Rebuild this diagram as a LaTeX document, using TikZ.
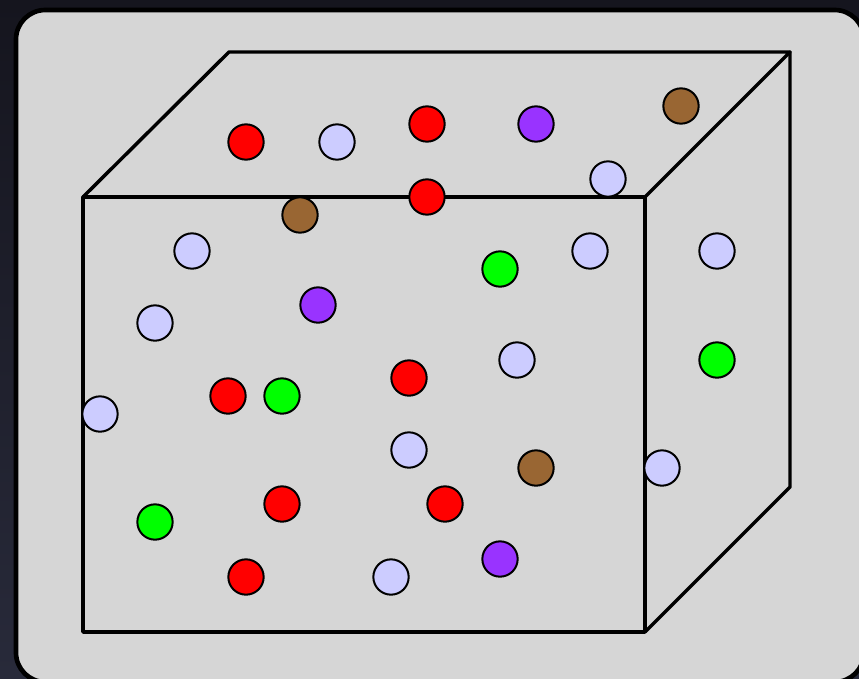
\documentclass[tikz,border=0pt]{standalone}
\usepackage{xcolor}
\usepackage{tikz}
\usetikzlibrary{positioning,calc}

\definecolor{panelgray}{HTML}{D6D6D6}
\definecolor{bgtop}{HTML}{15151E}
\definecolor{bgbot}{HTML}{282A3A}
\definecolor{pred}{HTML}{FF0000}
\definecolor{plav}{HTML}{CCCCFF}
\definecolor{ppur}{HTML}{9933FF}
\definecolor{pbrn}{HTML}{996633}
\definecolor{pgrn}{HTML}{00FF00}

\begin{document}
\begin{tikzpicture}[
  x=0.75pt, y=-0.75pt,
  edge/.style={line width=2.6pt, black, line cap=round, line join=round},
  ball/.style={circle, draw=black, line width=1.5pt, minimum size=26.5pt,
    inner sep=0pt},
  red/.style={ball, fill=pred},
  lav/.style={ball, fill=plav},
  pur/.style={ball, fill=ppur},
  brn/.style={ball, fill=pbrn},
  grn/.style={ball, fill=pgrn}
]
% ---- background ----
\useasboundingbox (0,0) rectangle (859,678);
\shade[top color=bgtop, bottom color=bgbot] (0,0) rectangle (859,678);
\draw[line width=3.5pt, fill=panelgray, rounded corners=22pt]
  (16,10) rectangle (864,682);

% ---- cube corners ----
\coordinate (ftl) at (83,197);
\coordinate (ftr) at (645,197);
\coordinate (fbr) at (645,632);
\coordinate (fbl) at (83,632);
\coordinate (btl) at (229,52);
\coordinate (btr) at (790,52);
\coordinate (bbr) at (790,487);

% ---- cube edges ----
\draw[edge] (ftl) -- (ftr) -- (fbr) -- (fbl) -- cycle;
\draw[edge] (ftl) -- (btl) -- (btr) -- (ftr);
\draw[edge] (btr) -- (bbr) -- (fbr);

% ---- particles ----
\node[red] (r1) at (246,142) {};
\node[red] (r2) at (427,124) {};
\node[red] (r3) at (427,197) {};
\node[red] (r4) at (228,396) {};
\node[red] (r5) at (409,378) {};
\node[red] (r6) at (282,504) {};
\node[red] (r7) at (445,504) {};
\node[red] (r8) at (246,577) {};

\node[lav] (l1) at (337,142) {};
\node[lav] (l2) at (608,179) {};
\node[lav] (l3) at (192,251) {};
\node[lav] (l4) at (590,251) {};
\node[lav] (l5) at (717,251) {};
\node[lav] (l6) at (155,323) {};
\node[lav] (l7) at (517,360) {};
\node[lav] (l8) at (100,414) {};
\node[lav] (l9) at (409,450) {};
\node[lav] (l10) at (662,468) {};
\node[lav] (l11) at (391,577) {};

\node[pur] (p1) at (536,124) {};
\node[pur] (p2) at (318,305) {};
\node[pur] (p3) at (500,559) {};

\node[brn] (b1) at (681,106) {};
\node[brn] (b2) at (300,215) {};
\node[brn] (b3) at (536,468) {};

\node[grn] (g1) at (500,269) {};
\node[grn] (g2) at (282,396) {};
\node[grn] (g3) at (717,360) {};
\node[grn] (g4) at (155,522) {};
\end{tikzpicture}
\end{document}
